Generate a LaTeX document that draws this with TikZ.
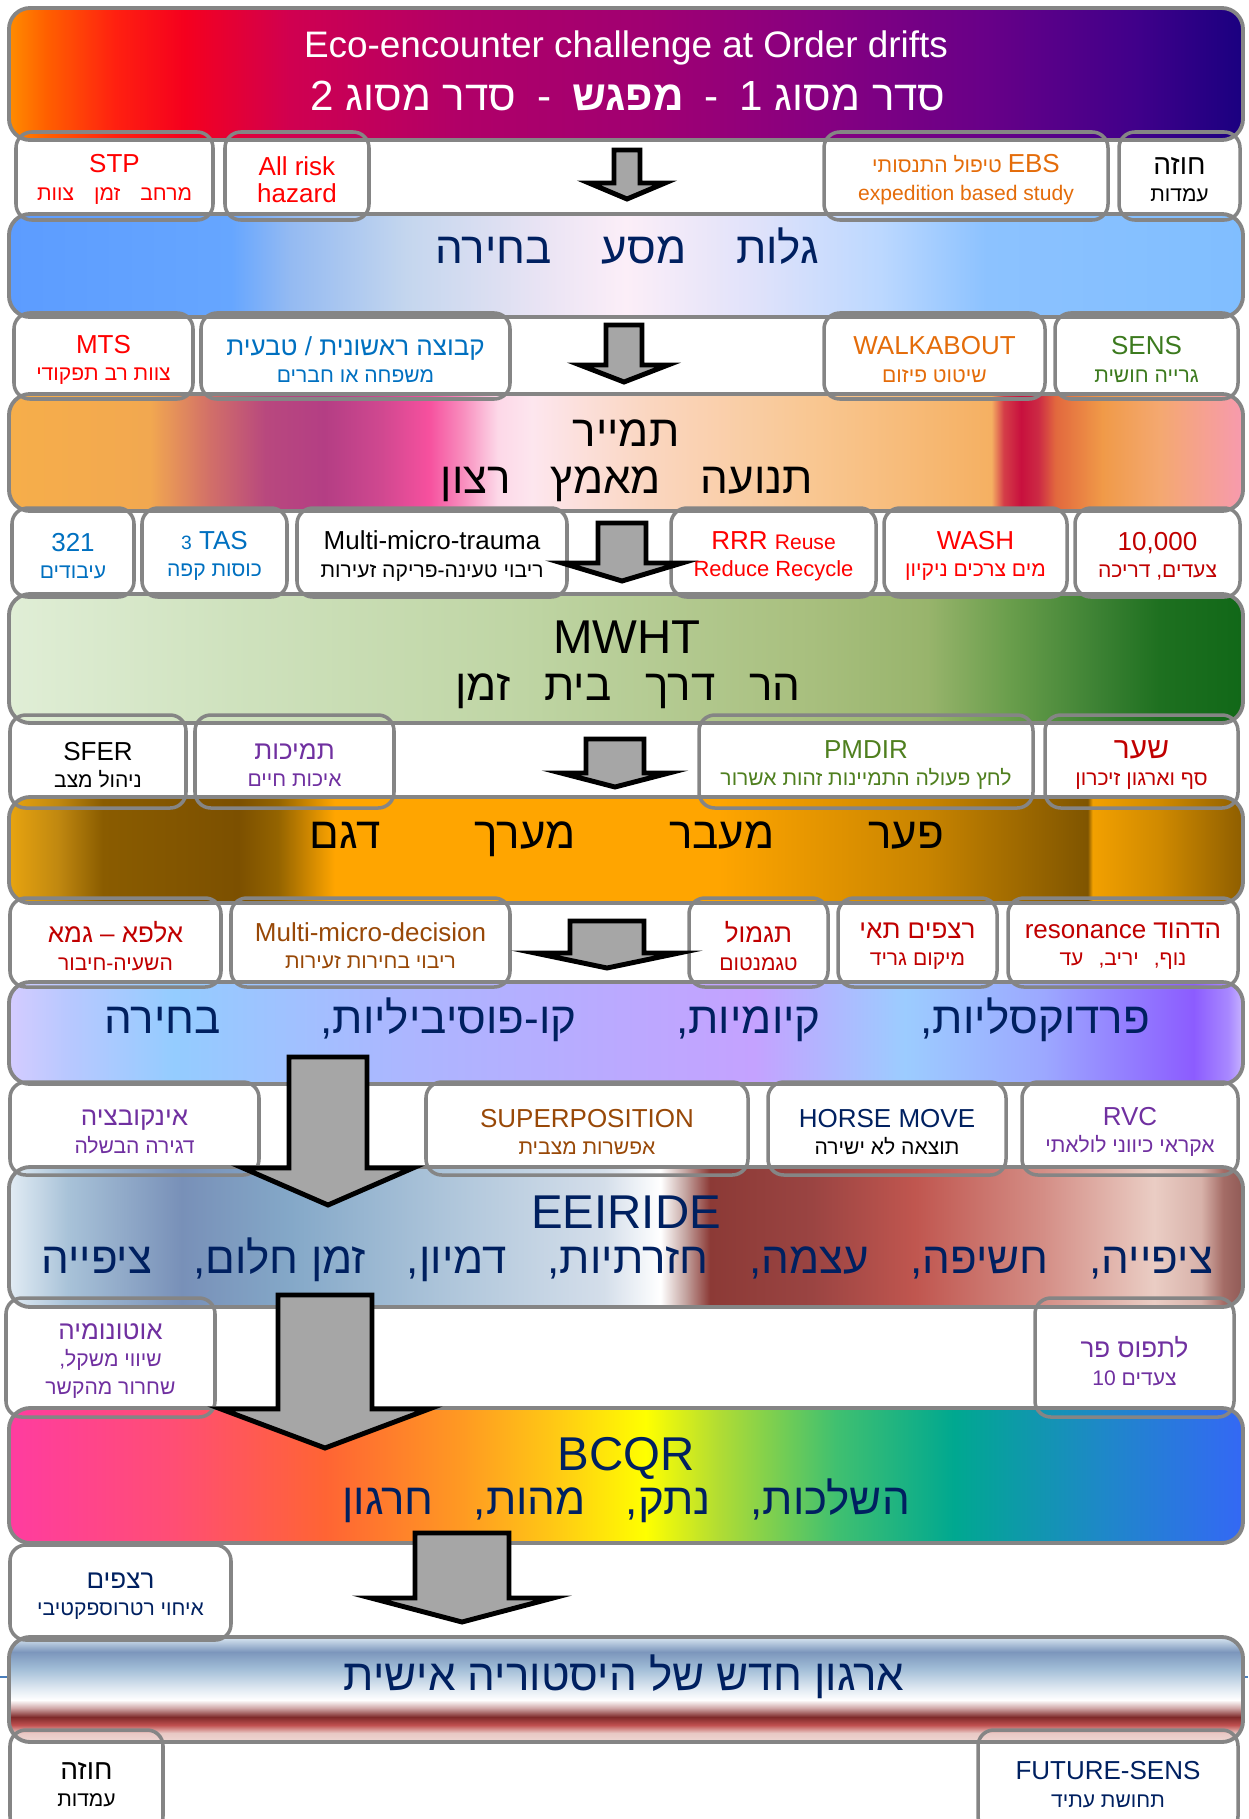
\documentclass[tikz,border=0pt]{standalone}
\usepackage{fontspec}
\setmainfont{Liberation Sans}
\newfontfamily\heb[Script=Hebrew]{Liberation Sans}
\TeXXeTstate=1

\newcommand\he[1]{{\heb\beginR#1\endR}}
\newcommand\boxtitle{\fontsize{14.8}{15.5}\selectfont}
\newcommand\hc[2]{\definecolor{#1}{HTML}{#2}}
% cx, top, shaft half width, head line, head half width, tip
\newcommand\blockdown[6]{\draw[blockarrow] (#1-#3,#2) -- (#1+#3,#2) -- (#1+#3,#4) -- (#1+#5,#4) -- (#1,#6) -- (#1-#5,#4) -- (#1-#3,#4) -- cycle;}

\hc{bandgray}{858585}\hc{arrowgray}{A6A6A6}\hc{deepred}{C00000}\hc{ebsorange}{E46C0A}
\hc{ownblue}{0070C0}\hc{sensgreen}{3C7A1E}\hc{pmgreen}{4F7F1F}\hc{lilac}{7030A0}
\hc{rust}{984807}\hc{navy}{002060}\hc{linkblue}{4A7EBB}

% band colours
\hc{ta}{FF8C00}\hc{tb}{FF6000}\hc{tc}{FF2010}\hc{td}{F5001E}\hc{te}{D00050}\hc{tf}{B00068}
\hc{tg}{A00072}\hc{th}{880080}\hc{ti}{680088}\hc{tj}{40008A}\hc{tk}{1A0080}
\hc{ea}{5C9CFF}\hc{eb}{66A6FF}\hc{ec}{94BAF2}\hc{ed}{C4D6EE}\hc{ee}{EAE4F4}\hc{ef}{FCEEF8}
\hc{eg}{E0E2FA}\hc{eh}{BCD8FF}\hc{ei}{8CC2FF}\hc{ej}{80BEFF}
\hc{wa}{F6AE4A}\hc{wb}{F2A850}\hc{wc}{D27068}\hc{wd}{B8487E}\hc{we}{B43E84}\hc{wf}{D04890}
\hc{wg}{F6509E}\hc{wh}{F88EBE}\hc{wi}{FDD8E8}\hc{wj}{FDE6EE}\hc{wk}{FAD6C0}\hc{wl}{F9C792}
\hc{wm}{F5B062}\hc{wn}{D43E48}\hc{wo}{C8103E}\hc{wp}{CC2A44}\hc{wq}{E2683E}\hc{wr}{F09A48}
\hc{ws}{F4A870}\hc{wt}{F79AAE}
\hc{ma}{E0EED6}\hc{mb}{CFE2BE}\hc{mc}{BFD5A4}\hc{md}{A8BF7E}\hc{me}{98B46C}\hc{mf}{6A9E4C}
\hc{mg}{3A8032}\hc{mh}{1E7020}\hc{mi}{116818}
\hc{ga}{E8A410}\hc{gb}{C08810}\hc{gc}{8A5C00}\hc{gd}{7C5000}\hc{ge}{946400}\hc{gf}{FFA500}
\hc{gg}{C88400}\hc{gh}{7F5500}\hc{gi}{F2A000}\hc{gj}{D08A00}\hc{gk}{8E5E00}
\hc{pa}{D4CCFF}\hc{pb}{B8C8FF}\hc{pc}{94CCFF}\hc{pd}{ACB6FF}\hc{pe}{BCA8FF}\hc{pf}{C4A2FF}
\hc{pg}{9CCCFF}\hc{ph}{9CA8FF}\hc{pi}{8C5CFF}\hc{pj}{A888FF}\hc{pk}{C8B4FF}
\hc{ia}{E2ECF4}\hc{ib}{A8C2D8}\hc{ic}{7890B8}\hc{id}{84A8C8}\hc{ie}{B2C8DC}\hc{if}{D4DEEA}
\hc{ig}{FFFFFF}\hc{ih}{C4A4A0}\hc{ii}{8C3A36}\hc{ij}{9A4442}\hc{ik}{C0564F}\hc{il}{D48E86}
\hc{im}{EACDC4}\hc{in}{D8B2AA}\hc{io}{A46C66}\hc{ip}{905A56}
\hc{ba}{FF3CA0}\hc{bb}{FF4E74}\hc{bc}{FF6434}\hc{bd}{FF9A22}\hc{be}{FFCA14}\hc{bf}{FFFF00}
\hc{bg}{B0DC34}\hc{bh}{40C070}\hc{bi}{00A890}\hc{bj}{1E88C8}\hc{bk}{3468F5}
\hc{ha}{F0D8D4}\hc{hb}{E8C8C4}\hc{hcc}{C05050}\hc{hd}{7E2A2A}\hc{he}{D0A8A8}\hc{hf}{FFFFFF}
\hc{hg}{E4ECF4}\hc{hh}{A0BCD6}\hc{hi}{7C96BC}\hc{hj}{C8D8E8}\hc{hk}{D8E4F0}

\pgfdeclarehorizontalshading{titleshade}{100bp}{color(0bp)=(ta); color(25bp)=(ta); color(26.5bp)=(tb); color(29.3bp)=(tc); color(32.1bp)=(td); color(36.4bp)=(te); color(43.4bp)=(tf); color(50.9bp)=(tg); color(57.5bp)=(th); color(64.6bp)=(ti); color(70.7bp)=(tj); color(75bp)=(tk); color(100bp)=(tk)}
\pgfdeclarehorizontalshading{exileshade}{100bp}{color(0bp)=(ea); color(25bp)=(ea); color(34bp)=(eb); color(36.4bp)=(ec); color(41.1bp)=(ed); color(46.7bp)=(ee); color(50bp)=(ef); color(55.2bp)=(eg); color(60.3bp)=(eh); color(64.6bp)=(ei); color(75bp)=(ej); color(100bp)=(ej)}
\pgfdeclarehorizontalshading{willshade}{100bp}{color(0bp)=(wa); color(25bp)=(wa); color(30.7bp)=(wb); color(33.1bp)=(wc); color(35.4bp)=(wd); color(37.8bp)=(we); color(40.1bp)=(wf); color(42bp)=(wg); color(43.4bp)=(wh); color(44.8bp)=(wi); color(46.2bp)=(wj); color(50.9bp)=(wk); color(57.5bp)=(wl); color(64.8bp)=(wm); color(65.3bp)=(wn); color(66bp)=(wo); color(66.7bp)=(wp); color(67.4bp)=(wq); color(69.3bp)=(wr); color(71.6bp)=(ws); color(75bp)=(wt); color(100bp)=(wt)}
\pgfdeclarehorizontalshading{mwhtshade}{100bp}{color(0bp)=(ma); color(25bp)=(ma); color(34bp)=(mb); color(45.8bp)=(mc); color(57.5bp)=(md); color(62.2bp)=(me); color(65.5bp)=(mf); color(69.3bp)=(mg); color(71.6bp)=(mh); color(75bp)=(mi); color(100bp)=(mi)}
\pgfdeclarehorizontalshading{gapshade}{100bp}{color(0bp)=(ga); color(25bp)=(ga); color(27bp)=(gb); color(28.8bp)=(gc); color(34.3bp)=(gd); color(35.9bp)=(ge); color(38.2bp)=(gf); color(53.7bp)=(gf); color(62.2bp)=(gg); color(68.7bp)=(gh); color(68.9bp)=(gi); color(71.6bp)=(gj); color(75bp)=(gk); color(100bp)=(gk)}
\pgfdeclarehorizontalshading{parashade}{100bp}{color(0bp)=(pa); color(25bp)=(pa); color(27.4bp)=(pb); color(31.7bp)=(pc); color(41.1bp)=(pd); color(50.5bp)=(pe); color(55.2bp)=(pf); color(61.3bp)=(pg); color(66.9bp)=(ph); color(73bp)=(pi); color(74.4bp)=(pj); color(75bp)=(pk); color(100bp)=(pk)}
\pgfdeclarehorizontalshading{eeishade}{100bp}{color(0bp)=(ia); color(25bp)=(ia); color(27.4bp)=(ib); color(32bp)=(ic); color(36.4bp)=(id); color(43.4bp)=(ie); color(49.1bp)=(if); color(51.4bp)=(ig); color(52.4bp)=(ih); color(53.4bp)=(ii); color(57.5bp)=(ij); color(61.7bp)=(ik); color(66.9bp)=(il); color(71.4bp)=(im); color(73.3bp)=(in); color(74.2bp)=(io); color(75bp)=(ip); color(100bp)=(ip)}
\pgfdeclarehorizontalshading{bcqrshade}{100bp}{color(0bp)=(ba); color(25bp)=(ba); color(31.7bp)=(bb); color(37.8bp)=(bc); color(43.4bp)=(bd); color(47.2bp)=(be); color(50.8bp)=(bf); color(53.8bp)=(bg); color(58.5bp)=(bh); color(63.3bp)=(bi); color(69.3bp)=(bj); color(75bp)=(bk); color(100bp)=(bk)}
\pgfdeclareverticalshading{histshade}{100bp}{color(0bp)=(ha); color(25bp)=(ha); color(29.3bp)=(hb); color(33.1bp)=(hcc); color(36.9bp)=(hd); color(41.2bp)=(he); color(45bp)=(hf); color(49.8bp)=(hg); color(60.2bp)=(hh); color(67.9bp)=(hi); color(73.6bp)=(hj); color(75bp)=(hk); color(100bp)=(hk)}

\begin{document}
\begin{tikzpicture}[x=0.02cm, y=-0.02cm,
  band/.style={shade, draw=bandgray, line width=2.2pt, rounded corners=12pt},
  box/.style={draw=bandgray, line width=2pt, rounded corners=9pt},
  boxtext/.style={align=center, inner sep=0pt, yshift=-2pt, font=\fontsize{12}{15.5}\selectfont},
  bandtext/.style={anchor=base, inner sep=0pt, font=\fontsize{25}{28}\selectfont},
  bandhead/.style={anchor=base, inner sep=0pt, font=\fontsize{27}{30}\selectfont},
  blockarrow/.style={fill=arrowgray, draw=black, line width=2.8pt}]
\path[use as bounding box, clip] (0,0) rectangle (1248,1819);

% bands
\path[band, shading=titleshade] (9,8) rectangle (1243,140);
\path[band, shading=exileshade] (9,214) rectangle (1243,317);
\path[band, shading=willshade] (9,394) rectangle (1243,511);
\path[band, shading=mwhtshade] (9,594) rectangle (1243,723);
\path[band, shading=gapshade] (9,797) rectangle (1243,903);
\path[band, shading=parashade] (9,982) rectangle (1243,1084);
\path[band, shading=eeishade] (9,1167) rectangle (1243,1307);
\path[band, shading=bcqrshade] (9,1408) rectangle (1243,1543);
\coordinate (rulel) at (0,1677);
\coordinate (ruler) at (1248,1677);
\draw[linkblue, line width=0.6pt] (rulel) -- (ruler);
\path[band, shading=histshade] (9,1637) rectangle (1243,1742);

\node[bandtext, white, font=\fontsize{21}{24}\selectfont] (eco) at (626,57) {Eco-encounter challenge at Order drifts};
\node[bandtext, white, font=\fontsize{24}{28}\selectfont] (order) at (628,110) {\he{סדר מסוג 1\hspace{.42cm}-\hspace{.42cm}\textbf{מפגש}\hspace{.42cm}-\hspace{.42cm}סדר מסוג 2}};
\node[bandtext, navy] (exile) at (627,263) {\he{גלות\hspace{1cm}מסע\hspace{1cm}בחירה}};
\node[bandtext] (tmyr) at (626,446) {\he{תמייר}};
\node[bandtext] (will) at (627,493) {\he{תנועה\hspace{.8cm}מאמץ\hspace{.8cm}רצון}};
\node[bandhead] (mwht) at (627,653) {MWHT};
\node[bandtext] (road) at (628,700) {\he{הר\hspace{.68cm}דרך\hspace{.68cm}בית\hspace{.68cm}זמן}};
\node[bandtext] (gap) at (627,848) {\he{פער\hspace{1.88cm}מעבר\hspace{1.88cm}מערך\hspace{1.88cm}דגם}};
\node[bandtext, navy] (para) at (627,1033) {\he{פרדוקסליות,\hspace{2cm}קיומיות,\hspace{2cm}קו-פוסיביליות,\hspace{2cm}בחירה}};
\node[bandhead, navy] (eeiride) at (626,1228) {EEIRIDE};
\node[bandtext, navy] (hope) at (627,1273) {\he{ציפייה,\hspace{.82cm}חשיפה,\hspace{.82cm}עצמה,\hspace{.82cm}חזרתיות,\hspace{.82cm}דמיון,\hspace{.82cm}זמן חלום,\hspace{.82cm}ציפייה}};
\node[bandhead, navy] (bcqr) at (626,1470) {BCQR};
\node[bandtext, navy] (cast) at (626,1514) {\he{השלכות,\hspace{.8cm}נתק,\hspace{.8cm}מהות,\hspace{.8cm}חרגון}};
\node[bandtext, navy] (history) at (624,1690) {\he{ארגון חדש של היסטוריה אישית}};

% row one
\foreach \nm/\xa/\xb/\col/\txt in {
  stp/16/213/red/{{\boxtitle STP}\\\he{מרחב\hspace{.4cm}זמן\hspace{.4cm}צוות}},
  risk/225/369/red/{{\boxtitle All risk}\\{\boxtitle hazard}},
  ebs/824/1108/ebsorange/{\beginR{\boxtitle EBS} {\heb טיפול התנסותי}\endR\\expedition based study},
  seer/1119/1240/black/{{\fontsize{16}{15}\selectfont\he{חוזה}}\\\he{עמדות}}}
  \draw[box] (\xa,132) rectangle (\xb,220) node[midway, boxtext, text=\col] (\nm) {\txt};
% row two
\foreach \nm/\xa/\xb/\col/\txt in {
  mts/14/193/red/{{\boxtitle MTS}\\\he{צוות רב תפקודי}},
  group/201/510/ownblue/{{\boxtitle\he{קבוצה ראשונית / טבעית}}\\\he{משפחה או חברים}},
  walk/824/1045/ebsorange/{{\boxtitle WALKABOUT}\\\he{שיטוט פיזום}},
  sens/1055/1238/sensgreen/{{\boxtitle SENS}\\\he{גרייה חושית}}}
  \draw[box] (\xa,313) rectangle (\xb,399) node[midway, boxtext, text=\col] (\nm) {\txt};
% row three
\foreach \nm/\xa/\xb/\col/\txt in {
  count/12/134/ownblue/{{\boxtitle 321}\\\he{עיבודים}},
  tas/142/287/ownblue/{{\boxtitle{\fontsize{11}{15}\selectfont 3} TAS}\\\he{כוסות קפה}},
  trauma/297/567/black/{{\boxtitle Multi-micro-trauma}\\\he{ריבוי טעינה-פריקה זעירות}},
  rrr/671/876/red/{{\boxtitle RRR {\fontsize{12}{15}\selectfont Reuse}}\\{\fontsize{12.5}{15}\selectfont Reduce Recycle}},
  wash/884/1067/red/{{\boxtitle WASH}\\\he{מים צרכים ניקיון}},
  steps/1075/1240/deepred/{{\boxtitle 10,000}\\\he{צעדים, דריכה}}}
  \draw[box] (\xa,508) rectangle (\xb,597) node[midway, boxtext, text=\col] (\nm) {\txt};
% row four
\foreach \nm/\xa/\xb/\col/\txt in {
  sfer/10/186/black/{{\boxtitle SFER}\\\he{ניהול מצב}},
  support/195/394/lilac/{{\boxtitle\he{תמיכות}}\\\he{איכות חיים}},
  pmdir/699/1033/pmgreen/{{\boxtitle PMDIR}\\\he{לחץ פעולה התמיינות זהות אשרור}},
  gate/1045/1238/deepred/{{\fontsize{17}{15}\selectfont\he{שער}}\\\he{סף וארגון זיכרון}}}
  \draw[box] (\xa,715) rectangle (\xb,808) node[midway, boxtext, text=\col] (\nm) {\txt};
% row five
\foreach \nm/\xa/\xb/\col/\txt in {
  alpha/10/221/deepred/{{\boxtitle\he{אלפא – גמא}}\\\he{השעיה-חיבור}},
  decision/231/510/rust/{{\boxtitle Multi-micro-decision}\\\he{ריבוי בחירות זעירות}},
  reward/689/828/deepred/{{\boxtitle\he{תגמול}}\\\he{טגמנטום}},
  cells/838/997/deepred/{{\boxtitle\he{רצפים תאי}}\\\he{מיקום גריד}},
  reson/1008/1238/deepred/{{\boxtitle\beginR{\heb הדהוד} resonance\endR}\\\he{נוף,\hspace{.3cm}יריב,\hspace{.3cm}עד}}}
  \draw[box] (\xa,898) rectangle (\xb,987) node[midway, boxtext, text=\col] (\nm) {\txt};
% row six
\foreach \nm/\xa/\xb/\col/\txt in {
  incub/10/259/lilac/{{\boxtitle\he{אינקובציה}}\\\he{דגירה הבשלה}},
  superpos/426/748/rust/{{\boxtitle SUPERPOSITION}\\\he{אפשרות מצבית}},
  horse/768/1006/navy/{{\boxtitle HORSE MOVE}\\\textcolor{black}{\he{תוצאה לא ישירה}}},
  rvc/1022/1238/lilac/{{\boxtitle RVC}\\\he{אקראי כיווני לולאתי}}}
  \draw[box] (\xa,1082) rectangle (\xb,1175) node[midway, boxtext, text=\col] (\nm) {\txt};
% rows seven to nine
\draw[box] (6,1298) rectangle (215,1417) node[midway, boxtext, text=lilac] (auto) {{\boxtitle\he{אוטונומיה}}\\\he{שיווי משקל,}\\\he{שחרור מהקשר}};
\draw[box] (1035,1298) rectangle (1234,1417) node[midway, boxtext, text=lilac] (grasp) {{\boxtitle\he{לתפוס פר}}\\10 \he{צעדים}};
\draw[box] (10,1545) rectangle (231,1640) node[midway, boxtext, text=navy] (seq) {{\boxtitle\he{רצפים}}\\\he{איחוי רטרוספקטיבי}};
\draw[box] (10,1730) rectangle (163,1832) node[midway, boxtext] (seer2) {{\fontsize{16}{15}\selectfont\he{חוזה}}\\\he{עמדות}};
\draw[box] (978,1730) rectangle (1238,1832) node[midway, boxtext, text=navy] (future) {{\boxtitle FUTURE-SENS}\\\he{תחושת עתיד}};

% arrows
\blockdown{627}{150}{13}{183}{38}{199}
\blockdown{624}{325}{18}{365}{44}{382}
\blockdown{622}{523}{24}{563}{60}{581}
\blockdown{615}{739}{29}{773}{54}{787}
\blockdown{607}{921}{37}{953}{72}{968}
\blockdown{328}{1057}{39}{1168}{85}{1205}
\blockdown{325}{1295}{47}{1409}{104}{1448}
\blockdown{462}{1533}{47}{1598}{91}{1622}
\end{tikzpicture}
\end{document}
